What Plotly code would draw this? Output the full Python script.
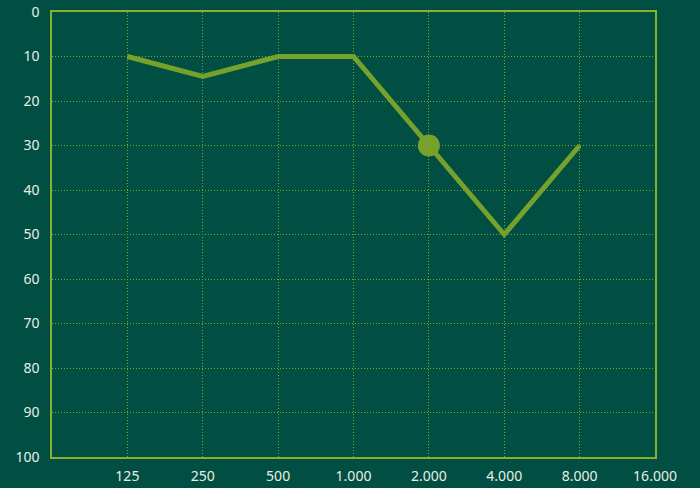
import plotly.graph_objects as go

freq_labels = ["125", "250", "500", "1.000", "2.000", "4.000", "8.000", "16.000"]
hearing_level = [10, 14.5, 10, 10, 30, 50, 30]
marker_label = "2.000"
y_ticks = [0, 10, 20, 30, 40, 50, 60, 70, 80, 90, 100]

bg = "#004F42"
line_col = "#76A22C"
axis_col = "#8AAE2E"
grid_col = "#7AA42C"
text_col = "#E8EEE4"

xpos = list(range(1, len(freq_labels) + 1))
data_x = xpos[:len(hearing_level)]

fig = go.Figure()
fig.add_trace(go.Scatter(
    x=data_x, y=hearing_level, mode="lines",
    line=dict(color=line_col, width=5), hoverinfo="skip", showlegend=False,
))
mi = freq_labels.index(marker_label)
fig.add_trace(go.Scatter(
    x=[xpos[mi]], y=[hearing_level[mi]], mode="markers",
    marker=dict(color=line_col, size=22), showlegend=False,
))

fig.update_layout(
    width=700, height=488,
    paper_bgcolor=bg, plot_bgcolor=bg,
    margin=dict(l=52, r=45, t=12, b=31, autoexpand=False),
    font=dict(family="Noto Sans, sans-serif", size=14, color=text_col),
)
fig.update_xaxes(
    range=[0, 8], tickmode="array", tickvals=xpos, ticktext=freq_labels,
    showgrid=True, gridcolor=grid_col, griddash="1px,2px", gridwidth=1,
    showline=True, linecolor=axis_col, linewidth=1.5, mirror=True,
    zeroline=False, ticks="", ticklabelstandoff=5, automargin=False,
    ticklabeloverflow="allow",
)
fig.update_yaxes(
    range=[100, 0], tickmode="array", tickvals=y_ticks,
    ticktext=[str(v) for v in y_ticks],
    showgrid=True, gridcolor=grid_col, griddash="1px,2px", gridwidth=1,
    showline=True, linecolor=axis_col, linewidth=1.5, mirror=True,
    zeroline=False, ticks="", ticklabelstandoff=8, automargin=False,
    ticklabeloverflow="allow",
)

fig.write_html(
    "out.html",
    config={"displayModeBar": False},
    post_script="document.body.style.margin='0';document.body.style.background='%s';" % bg,
)
